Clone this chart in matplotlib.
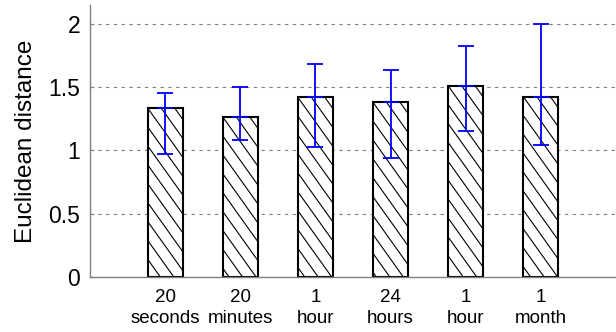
import matplotlib
matplotlib.use("Agg")
import matplotlib.pyplot as plt
import numpy as np

plt.rcParams['font.family'] = ['Liberation Sans', 'DejaVu Sans']

labels = ["20\nseconds", "20\nminutes", "1\nhour", "24\nhours", "1\nhour", "1\nmonth"]
means = [1.335, 1.264, 1.419, 1.380, 1.510, 1.424]
err_hi = [1.450, 1.500, 1.686, 1.631, 1.822, 1.995]
err_lo = [0.974, 1.084, 1.026, 0.942, 1.152, 1.042]

x = np.arange(1, len(means) + 1)
means_a = np.array(means)
yerr = [means_a - np.array(err_lo), np.array(err_hi) - means_a]

W, H = 616, 332
fig = plt.figure(figsize=(W / 100, H / 100), dpi=100)
ax = fig.add_axes([90 / W, 55 / H, 526 / W, 272 / H])

xmin, xmax = 0, 7
ymin, ymax = 0, 2.148
ax.set_xlim(xmin, xmax)
ax.set_ylim(ymin, ymax)

bw = 0.467
bars = ax.bar(x, means, width=bw, color="white", edgecolor="black",
              linewidth=1.5, zorder=2)

# sparse, steep hatch drawn by hand and clipped to each bar
sx = 526 / (xmax - xmin)   # px per x unit
sy = 272 / (ymax - ymin)   # px per y unit
step = 13.5 / sx
slope = 1.4 * sx / sy
for b in bars:
    x0 = b.get_x()
    h = b.get_height()
    for k in range(-40, 10):
        xa = x0 + k * step
        xs = np.array([xa, xa + 3.0])
        ys = h - (xs - xa) * slope
        ln, = ax.plot(xs, ys, color="black", linewidth=0.8, zorder=2.5)
        ln.set_clip_path(b)

ax.errorbar(x, means, yerr=yerr, fmt="none", ecolor="blue",
            elinewidth=1.3, capsize=6, capthick=1.3, zorder=3)
ax.plot(x, means, linestyle="none", marker="_", markersize=12,
        markeredgewidth=1.3, color="blue", zorder=3)

ax.set_yticks([0, 0.5, 1, 1.5, 2])
ax.set_yticklabels(["0", "0.5", "1", "1.5", "2"], fontsize=16.5)
ax.set_xticks(x)
ax.set_xticklabels(labels, fontsize=13.5, linespacing=1.3)
ax.tick_params(axis="y", direction="in", length=3, color="gray", pad=7)
ax.tick_params(axis="x", length=0, pad=9)
ax.set_ylabel("Euclidean distance", fontsize=17.5, labelpad=8)

ax.yaxis.grid(True, linestyle=(0, (3, 4)), color="gray", linewidth=0.8)
ax.set_axisbelow(True)
for s in ["top", "right"]:
    ax.spines[s].set_visible(False)
for s in ["left", "bottom"]:
    ax.spines[s].set_color("gray")
    ax.spines[s].set_linewidth(1.0)

fig.savefig("out.png", dpi=100)
